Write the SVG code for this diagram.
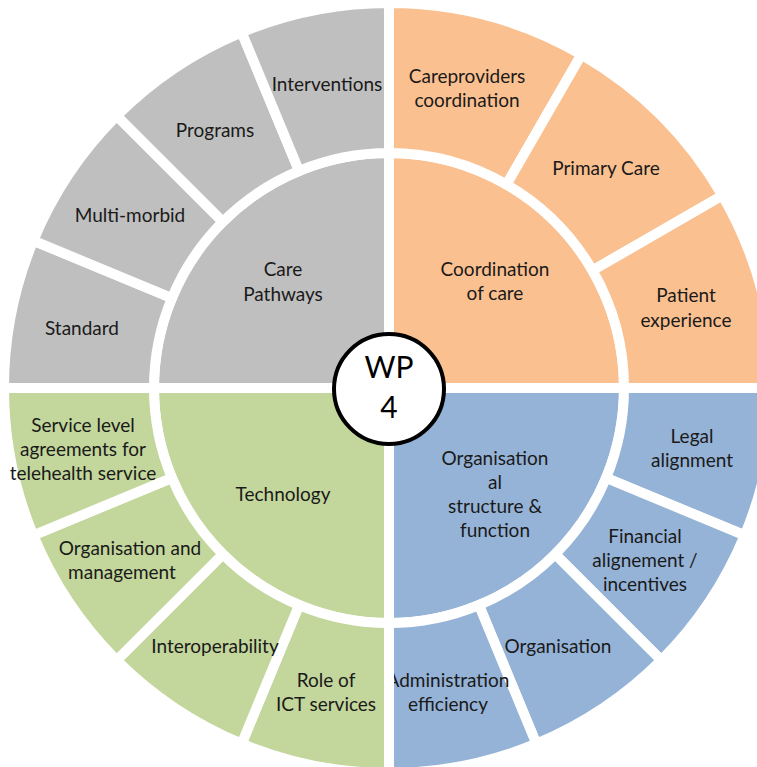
<svg xmlns="http://www.w3.org/2000/svg" width="757" height="767" viewBox="0 0 757 767">
  <style>
    .seg { stroke: #ffffff; stroke-width: 10; stroke-linejoin: miter; }
    .care { fill: #BFBFBF; }
    .coord { fill: #FAC090; }
    .org { fill: #95B3D7; }
    .tech { fill: #C3D69B; }
    text { font-family: Lato, "Open Sans", "DejaVu Sans", sans-serif; font-size: 19px; fill: #1a1a1a; text-anchor: middle; }
    .hub { fill: #ffffff; stroke: #000000; stroke-width: 4; }
    .hub-label { font-size: 30px; fill: #000000; }
  </style>
  <rect width="757" height="767" fill="#ffffff"/>

  <!-- Care Pathways quadrant (upper left) -->
  <g id="care-pathways">
    <path class="seg care" d="M389 388 L154 388 A235 235 0 0 1 389 153 Z"/>
    <text x="283" y="276">Care</text>
    <text x="283" y="301">Pathways</text>
  </g>
  <g id="standard">
    <path class="seg care" d="M4 388 A385 385 0 0 1 33.31 240.67 L171.89 298.07 A235 235 0 0 0 154 388 Z"/>
    <text x="82" y="335">Standard</text>
  </g>
  <g id="multi-morbid">
    <path class="seg care" d="M33.31 240.67 A385 385 0 0 1 116.76 115.76 L222.83 221.83 A235 235 0 0 0 171.89 298.07 Z"/>
    <text x="130" y="222">Multi-morbid</text>
  </g>
  <g id="programs">
    <path class="seg care" d="M116.76 115.76 A385 385 0 0 1 241.67 32.31 L299.07 170.89 A235 235 0 0 0 222.83 221.83 Z"/>
    <text x="215" y="137">Programs</text>
  </g>
  <g id="interventions">
    <path class="seg care" d="M241.67 32.31 A385 385 0 0 1 389 3 L389 153 A235 235 0 0 0 299.07 170.89 Z"/>
    <text x="327" y="91">Interventions</text>
  </g>

  <!-- Coordination of care quadrant (upper right) -->
  <g id="coordination-of-care">
    <path class="seg coord" d="M389 388 L389 153 A235 235 0 0 1 624 388 Z"/>
    <text x="495" y="276">Coordination</text>
    <text x="495" y="300">of care</text>
  </g>
  <g id="careproviders-coordination">
    <path class="seg coord" d="M389 3 A385 385 0 0 1 581.5 54.58 L506.5 184.48 A235 235 0 0 0 389 153 Z"/>
    <text x="467" y="83">Careproviders</text>
    <text x="467" y="107">coordination</text>
  </g>
  <g id="primary-care">
    <path class="seg coord" d="M581.5 54.58 A385 385 0 0 1 722.42 195.5 L592.52 270.5 A235 235 0 0 0 506.5 184.48 Z"/>
    <text x="606" y="175">Primary Care</text>
  </g>
  <g id="patient-experience">
    <path class="seg coord" d="M722.42 195.5 A385 385 0 0 1 774 388 L624 388 A235 235 0 0 0 592.52 270.5 Z"/>
    <text x="686" y="302">Patient</text>
    <text x="686" y="327">experience</text>
  </g>

  <!-- Organisational structure quadrant (lower right) -->
  <g id="organisational-structure">
    <path class="seg org" d="M389 388 L624 388 A235 235 0 0 1 389 623 Z"/>
    <text x="495" y="465">Organisation</text>
    <text x="495" y="489">al</text>
    <text x="495" y="513">structure &amp;</text>
    <text x="495" y="537">function</text>
  </g>
  <g id="legal-alignment">
    <path class="seg org" d="M774 388 A385 385 0 0 1 744.69 535.33 L606.11 477.93 A235 235 0 0 0 624 388 Z"/>
    <text x="692" y="443">Legal</text>
    <text x="692" y="467">alignment</text>
  </g>
  <g id="financial-alignment">
    <path class="seg org" d="M744.69 535.33 A385 385 0 0 1 661.24 660.24 L555.17 554.17 A235 235 0 0 0 606.11 477.93 Z"/>
    <text x="645" y="543">Financial</text>
    <text x="645" y="567">alignement /</text>
    <text x="645" y="591">incentives</text>
  </g>
  <g id="organisation">
    <path class="seg org" d="M661.24 660.24 A385 385 0 0 1 536.33 743.69 L478.93 605.11 A235 235 0 0 0 555.17 554.17 Z"/>
    <text x="558" y="653">Organisation</text>
  </g>
  <g id="administration-efficiency">
    <path class="seg org" d="M536.33 743.69 A385 385 0 0 1 389 773 L389 623 A235 235 0 0 0 478.93 605.11 Z"/>
    <text x="448" y="687">Administration</text>
    <text x="448" y="711">efficiency</text>
  </g>

  <!-- Technology quadrant (lower left) -->
  <g id="technology">
    <path class="seg tech" d="M389 388 L389 623 A235 235 0 0 1 154 388 Z"/>
    <text x="283" y="501">Technology</text>
  </g>
  <g id="role-of-ict">
    <path class="seg tech" d="M389 773 A385 385 0 0 1 241.67 743.69 L299.07 605.11 A235 235 0 0 0 389 623 Z"/>
    <text x="326" y="687">Role of</text>
    <text x="326" y="711">ICT services</text>
  </g>
  <g id="interoperability">
    <path class="seg tech" d="M241.67 743.69 A385 385 0 0 1 116.76 660.24 L222.83 554.17 A235 235 0 0 0 299.07 605.11 Z"/>
    <text x="215" y="653">Interoperability</text>
  </g>
  <g id="organisation-management">
    <path class="seg tech" d="M116.76 660.24 A385 385 0 0 1 33.31 535.33 L171.89 477.93 A235 235 0 0 0 222.83 554.17 Z"/>
    <text x="130" y="555">Organisation and</text>
    <text x="122" y="579">management</text>
  </g>
  <g id="service-level-agreements">
    <path class="seg tech" d="M33.31 535.33 A385 385 0 0 1 4 388 L154 388 A235 235 0 0 0 171.89 477.93 Z"/>
    <text x="83" y="432">Service level</text>
    <text x="83" y="456">agreements for</text>
    <text x="83" y="480">telehealth service</text>
  </g>

  <!-- Central hub -->
  <g id="wp4">
    <circle class="hub" cx="389" cy="389" r="55"/>
    <text class="hub-label" x="389" y="378">WP</text>
    <text class="hub-label" x="389" y="418">4</text>
  </g>
</svg>
